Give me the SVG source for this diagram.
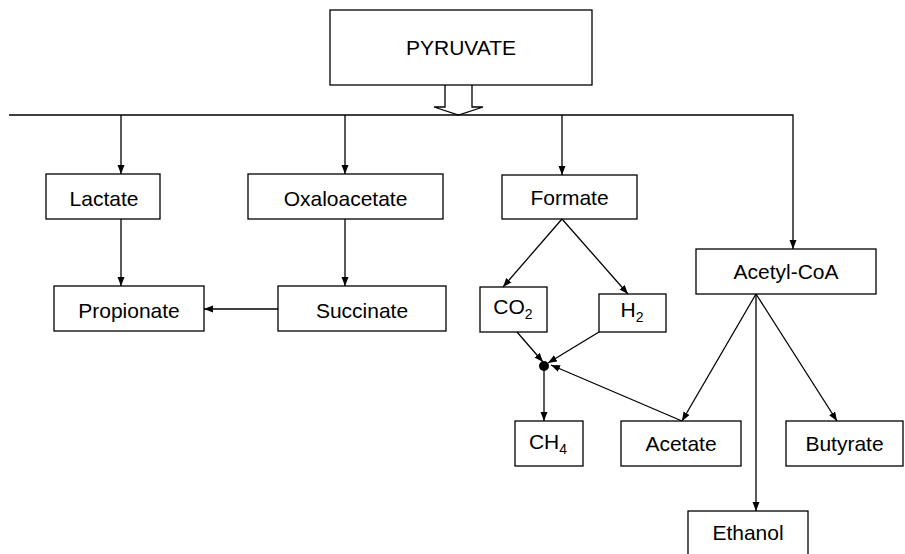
<svg xmlns="http://www.w3.org/2000/svg" width="905" height="554" viewBox="0 0 905 554">
<defs>
<marker id="ah" markerUnits="userSpaceOnUse" markerWidth="10" markerHeight="8" refX="9" refY="3.5" orient="auto">
<path d="M0,0 L9,3.5 L0,7 z" fill="#000"/>
</marker>
<style>
rect.n{fill:#fff;stroke:#000;stroke-width:1.3}
text{font-family:"Liberation Sans",Arial,sans-serif;font-size:21px;fill:#000;text-anchor:middle}
tspan.sub{font-size:14px}
.c line,.c path{stroke:#000;stroke-width:1.3;fill:none}
.c .a{marker-end:url(#ah)}
</style>
</defs>
<rect width="905" height="554" fill="#fff"/>
<g id="pyruvate"><rect class="n" x="330" y="10" width="262" height="75"/><text x="461" y="55">PYRUVATE</text></g>
<g id="lactate"><rect class="n" x="46" y="174" width="114" height="45"/><text x="104" y="206">Lactate</text></g>
<g id="oxaloacetate"><rect class="n" x="248" y="174" width="195" height="45"/><text x="345.5" y="206">Oxaloacetate</text></g>
<g id="formate"><rect class="n" x="502" y="175" width="135" height="44"/><text x="569.5" y="205">Formate</text></g>
<g id="propionate"><rect class="n" x="54" y="286" width="150" height="45"/><text x="129" y="318">Propionate</text></g>
<g id="succinate"><rect class="n" x="278" y="286" width="168" height="45"/><text x="362" y="318">Succinate</text></g>
<g id="co2"><rect class="n" x="480" y="287" width="67" height="45"/><text x="513" y="314">CO<tspan class="sub" dy="5">2</tspan></text></g>
<g id="h2"><rect class="n" x="599" y="294" width="67" height="38"/><text x="632" y="317">H<tspan class="sub" dy="5">2</tspan></text></g>
<g id="acetylcoa"><rect class="n" x="696" y="249" width="180" height="45"/><text x="786" y="279">Acetyl-CoA</text></g>
<g id="ch4"><rect class="n" x="515" y="421" width="68" height="45"/><text x="548" y="449">CH<tspan class="sub" dy="5">4</tspan></text></g>
<g id="acetate"><rect class="n" x="621" y="421" width="120" height="45"/><text x="681" y="451">Acetate</text></g>
<g id="butyrate"><rect class="n" x="786" y="421" width="117" height="45"/><text x="844.5" y="451">Butyrate</text></g>
<g id="ethanol"><rect class="n" x="688" y="511" width="120" height="50"/><text x="748" y="540">Ethanol</text></g>
<g id="junction"><circle cx="544" cy="366" r="5" fill="#000"/></g>
<g id="connectors" class="c">
<path d="M445,85 V107 H434 L458.5,115 L483,107 H472 V85" fill="#fff" stroke="#000" stroke-width="1.3"/>
<path class="a" d="M9,115 H793 V249"/>
<line class="a" x1="121" y1="115" x2="121" y2="174"/>
<line class="a" x1="345" y1="115" x2="345" y2="174"/>
<line class="a" x1="562" y1="115" x2="562" y2="175"/>
<line class="a" x1="121" y1="219" x2="121" y2="286"/>
<line class="a" x1="345" y1="219" x2="345" y2="286"/>
<line class="a" x1="278" y1="309" x2="204" y2="309"/>
<line class="a" x1="562" y1="219" x2="503" y2="287"/>
<line class="a" x1="562" y1="219" x2="628" y2="294"/>
<line class="a" x1="517" y1="332" x2="543" y2="362"/>
<line class="a" x1="599" y1="332" x2="548" y2="363"/>
<line class="a" x1="682" y1="421" x2="551" y2="365"/>
<line class="a" x1="544" y1="366" x2="544" y2="421"/>
<line class="a" x1="756" y1="294" x2="682" y2="421"/>
<line class="a" x1="756" y1="294" x2="837" y2="421"/>
<line class="a" x1="756" y1="294" x2="756" y2="511"/>
</g>
</svg>
